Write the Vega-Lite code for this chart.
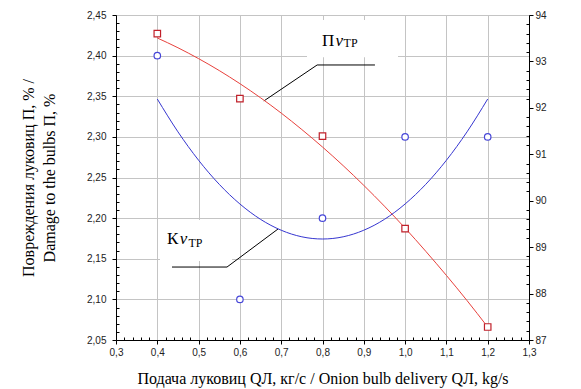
{
  "$schema": "https://vega.github.io/schema/vega-lite/v6.json",
  "width": 413,
  "height": 325,
  "autosize": {"type": "none"},
  "padding": {"left": 116, "top": 15, "right": 52, "bottom": 49},
  "background": "white",
  "config": {
    "view": {"stroke": "black", "strokeWidth": 1},
    "axis": {
      "domainColor": "black",
      "tickColor": "black",
      "gridColor": "#c4c4c4",
      "labelFont": "Liberation Sans",
      "labelFontSize": 10,
      "labelColor": "#222222",
      "labelOverlap": false,
      "labelFlush": false,
      "titleFont": "Liberation Serif",
      "titleFontSize": 16,
      "titleFontWeight": "normal",
      "titleColor": "black"
    }
  },
  "datasets": {
    "curves": [
      {"s": "P", "x": 0.4, "y": 2.4217}, {"s": "P", "x": 0.45, "y": 2.4097}, {"s": "P", "x": 0.5, "y": 2.3963},
      {"s": "P", "x": 0.55, "y": 2.3816}, {"s": "P", "x": 0.6, "y": 2.3655}, {"s": "P", "x": 0.65, "y": 2.3481},
      {"s": "P", "x": 0.7, "y": 2.3293}, {"s": "P", "x": 0.75, "y": 2.309}, {"s": "P", "x": 0.8, "y": 2.2875},
      {"s": "P", "x": 0.85, "y": 2.2646}, {"s": "P", "x": 0.9, "y": 2.2403}, {"s": "P", "x": 0.95, "y": 2.2147},
      {"s": "P", "x": 1.0, "y": 2.1877}, {"s": "P", "x": 1.05, "y": 2.1592}, {"s": "P", "x": 1.1, "y": 2.1295},
      {"s": "P", "x": 1.15, "y": 2.0985}, {"s": "P", "x": 1.2, "y": 2.066},
      {"s": "K", "x": 0.4, "y": 2.3466}, {"s": "K", "x": 0.45, "y": 2.3062}, {"s": "K", "x": 0.5, "y": 2.2712},
      {"s": "K", "x": 0.55, "y": 2.2416}, {"s": "K", "x": 0.6, "y": 2.2174}, {"s": "K", "x": 0.65, "y": 2.1985},
      {"s": "K", "x": 0.7, "y": 2.1851}, {"s": "K", "x": 0.75, "y": 2.177}, {"s": "K", "x": 0.8, "y": 2.1743},
      {"s": "K", "x": 0.85, "y": 2.177}, {"s": "K", "x": 0.9, "y": 2.1851}, {"s": "K", "x": 0.95, "y": 2.1985},
      {"s": "K", "x": 1.0, "y": 2.2174}, {"s": "K", "x": 1.05, "y": 2.2416}, {"s": "K", "x": 1.1, "y": 2.2712},
      {"s": "K", "x": 1.15, "y": 2.3062}, {"s": "K", "x": 1.2, "y": 2.3466}
    ],
    "points": [
      {"s": "P", "x": 0.4, "y": 2.427}, {"s": "P", "x": 0.6, "y": 2.347}, {"s": "P", "x": 0.8, "y": 2.301},
      {"s": "P", "x": 1.0, "y": 2.187}, {"s": "P", "x": 1.2, "y": 2.066},
      {"s": "K", "x": 0.4, "y": 2.4}, {"s": "K", "x": 0.6, "y": 2.1}, {"s": "K", "x": 0.8, "y": 2.2},
      {"s": "K", "x": 1.0, "y": 2.3}, {"s": "K", "x": 1.2, "y": 2.3}
    ],
    "leaders": [
      {"id": "P", "o": 1, "x": 0.927, "y": 2.3885}, {"id": "P", "o": 2, "x": 0.787, "y": 2.3885}, {"id": "P", "o": 3, "x": 0.658, "y": 2.3442},
      {"id": "K", "o": 1, "x": 0.4356, "y": 2.1398}, {"id": "K", "o": 2, "x": 0.5688, "y": 2.1398}, {"id": "K", "o": 3, "x": 0.6923, "y": 2.1866}
    ],
    "boxes": [
      {"x": 0.7625, "x2": 0.9828, "y": 2.398, "y2": 2.4438},
      {"x": 0.4065, "x2": 0.5809, "y": 2.1472, "y2": 2.1977}
    ],
    "labels": [
      {"part": "main", "t": "П", "x": 0.7988, "y": 2.4118},
      {"part": "v", "t": "v", "x": 0.8315, "y": 2.4118},
      {"part": "sub", "t": "ТР", "x": 0.851, "y": 2.4102},
      {"part": "main", "t": "К", "x": 0.4235, "y": 2.1682},
      {"part": "v", "t": "v", "x": 0.4545, "y": 2.1682},
      {"part": "sub", "t": "ТР", "x": 0.4755, "y": 2.1645}
    ],
    "right": [{"r": 87}, {"r": 94}]
  },
  "layer": [
    {
      "encoding": {
        "x": {
          "field": "x", "type": "quantitative",
          "scale": {"domain": [0.3, 1.3], "nice": false, "zero": false},
          "axis": {
            "values": [0.3,0.32,0.34,0.36,0.38,0.4,0.42,0.44,0.46,0.48,0.5,0.52,0.54,0.56,0.58,0.6,0.62,0.64,0.66,0.68,0.7,0.72,0.74,0.76,0.78,0.8,0.82,0.84,0.86,0.88,0.9,0.92,0.94,0.96,0.98,1,1.02,1.04,1.06,1.08,1.1,1.12,1.14,1.16,1.18,1.2,1.22,1.24,1.26,1.28,1.3],
            "labelExpr": "abs(datum.value*10-round(datum.value*10))<0.001 ? replace(format(datum.value,'.1f'),'.',',') : ''",
            "tickSize": {"condition": {"test": "abs(datum.value*10-round(datum.value*10))<0.001", "value": 4}, "value": -3},
            "gridOpacity": {"condition": {"test": "abs(datum.value*10-round(datum.value*10))<0.001", "value": 1}, "value": 0},
            "grid": true,
            "labelPadding": 3,
            "title": "Подача луковиц QЛ, кг/с / Onion bulb delivery QЛ, kg/s",
            "titleFont": "Liberation Serif",
            "titleFontSize": 16,
            "titleFontWeight": "normal",
            "titlePadding": 13
          }
        },
        "y": {
          "field": "y", "type": "quantitative",
          "scale": {"domain": [2.05, 2.45], "nice": false, "zero": false},
          "axis": {
            "values": [2.05,2.06,2.07,2.08,2.09,2.1,2.11,2.12,2.13,2.14,2.15,2.16,2.17,2.18,2.19,2.2,2.21,2.22,2.23,2.24,2.25,2.26,2.27,2.28,2.29,2.3,2.31,2.32,2.33,2.34,2.35,2.36,2.37,2.38,2.39,2.4,2.41,2.42,2.43,2.44,2.45],
            "labelExpr": "abs(datum.value*20-round(datum.value*20))<0.001 ? replace(format(datum.value,'.2f'),'.',',') : ''",
            "tickSize": {"condition": {"test": "abs(datum.value*20-round(datum.value*20))<0.001", "value": 4}, "value": -3},
            "gridOpacity": {"condition": {"test": "abs(datum.value*20-round(datum.value*20))<0.001", "value": 1}, "value": 0},
            "grid": true,
            "labelPadding": 6,
            "title": ["Повреждения луковиц П, % /", "Damage to the bulbs П, %"],
            "titleFont": "Liberation Serif",
            "titleFontSize": 16,
            "titleFontWeight": "normal",
            "titleLineHeight": 21,
            "titlePadding": 29
          }
        }
      },
      "layer": [
        {
          "data": {"name": "boxes"},
          "mark": {"type": "rect", "fill": "white", "stroke": null},
          "encoding": {"x2": {"field": "x2"}, "y2": {"field": "y2"}}
        },
        {
          "data": {"name": "leaders"},
          "mark": {"type": "line", "color": "black", "strokeWidth": 1},
          "encoding": {"detail": {"field": "id"}, "order": {"field": "o"}}
        },
        {
          "data": {"name": "curves"},
          "mark": {"type": "line", "strokeWidth": 1, "interpolate": "monotone"},
          "encoding": {
            "detail": {"field": "s"},
            "color": {"field": "s", "type": "nominal", "scale": {"domain": ["P", "K"], "range": ["#e8413c", "#3636d0"]}, "legend": null}
          }
        },
        {
          "data": {"name": "points"},
          "mark": {"type": "point", "filled": false, "strokeWidth": 1.2, "opacity": 1},
          "encoding": {
            "shape": {"field": "s", "type": "nominal", "scale": {"domain": ["P", "K"], "range": ["square", "circle"]}, "legend": null},
            "stroke": {"field": "s", "type": "nominal", "scale": {"domain": ["P", "K"], "range": ["#c0202a", "#4646d8"]}, "legend": null},
            "size": {"value": 42},
            "fill": {"value": "white"}
          }
        },
        {
          "data": {"name": "labels"},
          "transform": [{"filter": "datum.part === 'main'"}],
          "mark": {"type": "text", "font": "Liberation Serif", "fontSize": 17, "align": "left", "baseline": "alphabetic", "color": "black"},
          "encoding": {"text": {"field": "t"}}
        },
        {
          "data": {"name": "labels"},
          "transform": [{"filter": "datum.part === 'v'"}],
          "mark": {"type": "text", "font": "Liberation Serif", "fontSize": 17, "fontStyle": "italic", "align": "left", "baseline": "alphabetic", "color": "black"},
          "encoding": {"text": {"field": "t"}}
        },
        {
          "data": {"name": "labels"},
          "transform": [{"filter": "datum.part === 'sub'"}],
          "mark": {"type": "text", "font": "Liberation Serif", "fontSize": 12, "align": "left", "baseline": "alphabetic", "color": "black"},
          "encoding": {"text": {"field": "t"}}
        }
      ]
    },
    {
      "data": {"name": "right"},
      "mark": {"type": "point", "opacity": 0},
      "encoding": {
        "y": {
          "field": "r", "type": "quantitative",
          "scale": {"domain": [87, 94], "nice": false, "zero": false},
          "axis": {
            "orient": "right",
            "values": [87,87.2,87.4,87.6,87.8,88,88.2,88.4,88.6,88.8,89,89.2,89.4,89.6,89.8,90,90.2,90.4,90.6,90.8,91,91.2,91.4,91.6,91.8,92,92.2,92.4,92.6,92.8,93,93.2,93.4,93.6,93.8,94],
            "labelExpr": "abs(datum.value-round(datum.value))<0.001 ? format(datum.value,'d') : ''",
            "tickSize": {"condition": {"test": "abs(datum.value-round(datum.value))<0.001", "value": 4}, "value": -3},
            "grid": false,
            "labelPadding": 2,
            "title": null
          }
        }
      }
    }
  ],
  "resolve": {"scale": {"y": "independent"}}
}
